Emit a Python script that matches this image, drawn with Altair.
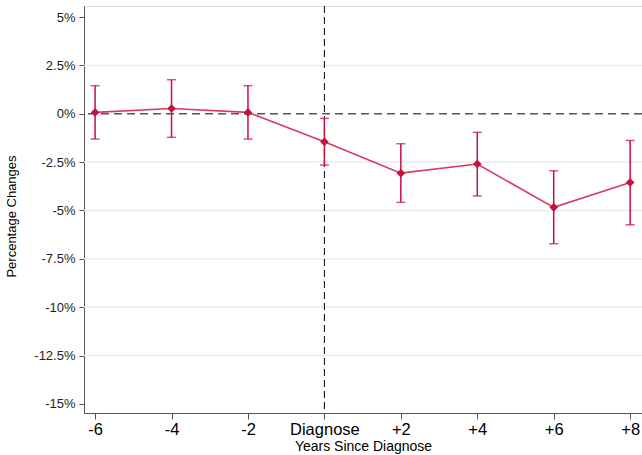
import altair as alt
import pandas as pd

years = [-6, -4, -2, 0, 2, 4, 6, 8]
estimates = [0.07, 0.27, 0.07, -1.45, -3.07, -2.60, -4.84, -3.55]
ci_low = [-1.31, -1.22, -1.31, -2.65, -4.58, -4.25, -6.72, -5.74]
ci_high = [1.45, 1.76, 1.45, -0.24, -1.55, -0.96, -2.95, -1.38]
y_ticks = [5, 2.5, 0, -2.5, -5, -7.5, -10, -12.5, -15]
grid_vals = [2.5, -2.5, -5, -7.5, -10, -12.5]

df = pd.DataFrame({"year": years, "est": estimates, "lo": ci_low, "hi": ci_high})
grid_df = pd.DataFrame({"g": grid_vals})

RED = "#c8103e"
LINE_RED = "#d93a5e"
FONT = "Liberation Sans"

xs = alt.Scale(domain=[-6.29, 8.31], nice=False, zero=False)
ys = alt.Scale(domain=[-15.47, 5.57], nice=False, zero=False)

x_axis = alt.Axis(
    values=years,
    labelExpr="datum.value == 0 ? 'Diagnose' : (datum.value > 0 ? '+' + datum.value : '' + datum.value)",
    title="Years Since Diagnose",
    grid=False,
    domainColor="#555555",
    tickColor="#555555",
    tickSize=6,
    labelFontSize=16.5,
    labelColor="black",
    labelFont=FONT,
    labelPadding=2,
    titleFont=FONT,
    titleFontSize=14,
    titleFontWeight="normal",
    titleColor="black",
    titlePadding=2,
)
y_axis = alt.Axis(
    values=y_ticks,
    labelExpr="datum.value + '%'",
    title="Percentage Changes",
    grid=False,
    domainColor="#555555",
    tickColor="#555555",
    tickSize=5,
    labelFontSize=13,
    labelColor="#222222",
    labelFont=FONT,
    labelPadding=4,
    titleFont=FONT,
    titleFontSize=13,
    titleFontWeight="normal",
    titleColor="black",
    titleX=-66,
    titleY=210,
)


def X(field):
    return alt.X(field, scale=xs, axis=x_axis)


def Y(field):
    return alt.Y(field, scale=ys, axis=y_axis)


base = alt.Chart(df)

grid = alt.Chart(grid_df).mark_rule(color="#e4edef", strokeWidth=1.5).encode(
    y=Y("g:Q")
)

zero_line = alt.Chart(pd.DataFrame({"z": [0]})).mark_rule(
    color="#555555", strokeDash=[8, 5], strokeWidth=1.5
).encode(y=Y("z:Q"))

vline = alt.Chart(pd.DataFrame({"v": [0]})).mark_rule(
    color="black", strokeDash=[7, 4], strokeWidth=1
).encode(x=X("v:Q"))

bars = base.mark_rule(color=RED, strokeWidth=1.5).encode(
    x=X("year:Q"),
    y=Y("lo:Q"),
    y2="hi:Q",
)
caps_lo = base.mark_tick(color=RED, thickness=1.5, size=9, orient="horizontal").encode(
    x=X("year:Q"),
    y=Y("lo:Q"),
)
caps_hi = base.mark_tick(color=RED, thickness=1.5, size=9, orient="horizontal").encode(
    x=X("year:Q"),
    y=Y("hi:Q"),
)
line = base.mark_line(color=LINE_RED, strokeWidth=1.6).encode(
    x=X("year:Q"),
    y=Y("est:Q"),
)
pts = base.mark_point(shape="diamond", filled=True, color=RED, size=75, opacity=1).encode(
    x=X("year:Q"),
    y=Y("est:Q"),
)

chart = alt.layer(grid, zero_line, vline, line, bars, caps_lo, caps_hi, pts).properties(
    width=558,
    height=407,
    autosize=alt.AutoSizeParams(type="none"),
    padding={"left": 84, "top": 6, "right": 0, "bottom": 42},
).configure_view(stroke="transparent").configure(background="white")

chart.save("out.html", embed_options={"renderer": "svg", "actions": False})
